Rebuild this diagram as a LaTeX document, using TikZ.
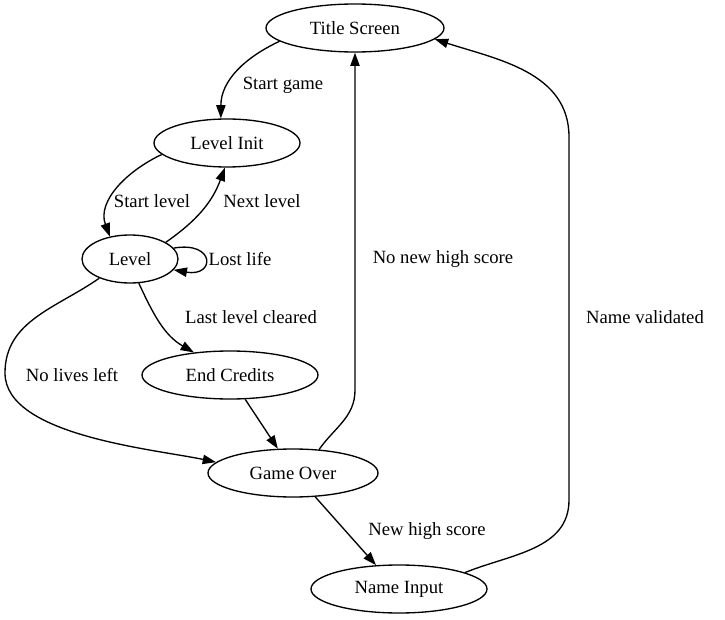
\documentclass[tikz,border=0pt]{standalone}
\usepackage{fontspec}
\setmainfont{Liberation Serif}
\usetikzlibrary{arrows.meta,shapes.geometric}

\begin{document}
\begin{tikzpicture}[x=0.75pt, y=0.75pt, every node/.style={font=\fontsize{14}{17}\selectfont}, state/.style={draw, ellipse, line width=1pt, inner sep=0pt, minimum height=36pt}, edge/.style={line width=1pt, -{Triangle[length=10pt,width=7pt]}}]
			\useasboundingbox (0,0) rectangle (725,619);
			% states
			\node[state, minimum width=133.5pt] (title) at (355,591) {Title Screen};
			\node[state, minimum width=109.5pt] (levelinit) at (227,476) {Level Init};
			\node[state, minimum width=72pt] (level) at (130,360) {Level};
			\node[state, minimum width=132pt] (credits) at (230,244) {End Credits};
			\node[state, minimum width=127.5pt] (gameover) at (293,146) {Game Over};
			\node[state, minimum width=132pt] (nameinput) at (399,30) {Name Input};
			% bends of the long edges
			\coordinate (nlbend) at (5,246);
			\coordinate (nnbend) at (355,229);
			\coordinate (nvlow) at (569,119);
			\coordinate (nvhigh) at (569,482);
			% transitions
			\draw[edge] (title.190) to[out=205,in=90] (levelinit.104);
			\draw[edge] (levelinit.190) to[out=205,in=110] (level.132);
			\draw[edge] (level.25) to[out=35,in=250] (levelinit.265);
			\draw[edge] (level.14) to[out=10,in=-10,looseness=5] (level.-14);
			\draw[edge] (level.290) to[out=-65,in=150] (credits.148);
			\draw[edge] (level.212) to[out=215,in=90] (nlbend) to[out=-90,in=168,looseness=0.7] (gameover.172);
			\draw[edge] (credits.302) -- (gameover.122);
			\draw[edge] (gameover.42) to[out=55,in=-90] (nnbend) -- (title.south);
			\draw[edge] (gameover.313) -- (nameinput.134);
			\draw[edge] (nameinput.14) to[out=22,in=-90] (nvlow) -- (nvhigh) to[out=90,in=-18] (title.352);
			% labels
			\node (lstartgame) at (283,534) {Start game};
			\node (lstartlevel) at (152,418) {Start level};
			\node (lnextlevel) at (262,418) {Next level};
			\node (llostlife) at (240,360) {Lost life};
			\node (llastlevel) at (251,302) {Last level cleared};
			\node (lnolives) at (72,244) {No lives left};
			\node (lnohigh) at (443,360) {No new high score};
			\node (lnewhigh) at (427,88) {New high score};
			\node (lvalidated) at (645,302) {Name validated};
\end{tikzpicture}
\end{document}
